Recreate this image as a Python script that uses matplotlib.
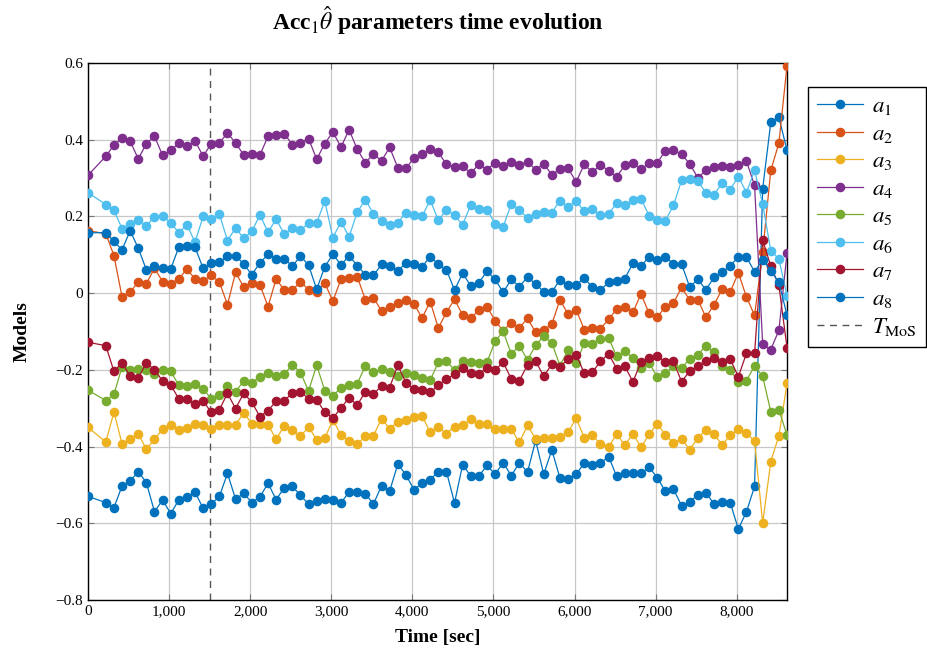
import numpy as np
import matplotlib
matplotlib.use("Agg")
import matplotlib.pyplot as plt
from matplotlib.ticker import FuncFormatter

plt.rcParams['font.family'] = ['Liberation Serif', 'DejaVu Serif']
plt.rcParams['mathtext.fontset'] = 'stix'

# sample times [sec]: first at 0, then every 100 s from 220
time = np.array([0] + list(range(220, 8621, 100)))

a1 = [-0.530, -0.546, -0.559, -0.503, -0.490, -0.465, -0.494, -0.570, -0.539, -0.575,
      -0.539, -0.532, -0.519, -0.561, -0.550, -0.530, -0.470, -0.537, -0.522, -0.546,
      -0.531, -0.496, -0.538, -0.508, -0.504, -0.527, -0.550, -0.541, -0.537, -0.540,
      -0.547, -0.518, -0.518, -0.523, -0.550, -0.502, -0.516, -0.446, -0.473, -0.513,
      -0.495, -0.486, -0.465, -0.465, -0.547, -0.447, -0.477, -0.477, -0.449, -0.472,
      -0.442, -0.476, -0.442, -0.467, -0.384, -0.472, -0.409, -0.482, -0.485, -0.472,
      -0.443, -0.448, -0.443, -0.426, -0.478, -0.470, -0.468, -0.470, -0.454, -0.481,
      -0.517, -0.511, -0.554, -0.545, -0.525, -0.520, -0.550, -0.545, -0.546, -0.615,
      -0.570, -0.504, 0.272, 0.445, 0.458, 0.373]
a2 = [0.163, 0.155, 0.098, -0.010, 0.003, 0.029, 0.025, 0.065, 0.030, 0.025,
      0.037, 0.063, 0.037, 0.032, 0.046, 0.029, -0.030, 0.054, 0.016, 0.026,
      0.022, -0.035, 0.037, 0.008, 0.007, 0.030, 0.009, 0.003, 0.026, -0.021,
      0.037, 0.040, 0.043, -0.017, -0.012, -0.046, -0.037, -0.027, -0.017, -0.028,
      -0.065, -0.022, -0.091, -0.050, -0.016, -0.057, -0.065, -0.045, -0.035, -0.072,
      -0.098, -0.077, -0.090, -0.066, -0.102, -0.096, -0.081, -0.017, -0.055, -0.043,
      -0.095, -0.090, -0.093, -0.068, -0.042, -0.037, -0.050, -0.002, -0.053, -0.063,
      -0.035, -0.026, 0.015, -0.018, -0.017, -0.063, -0.030, 0.010, 0.003, 0.053,
      -0.010, -0.058, 0.107, 0.320, 0.391, 0.593]
a3 = [-0.350, -0.388, -0.310, -0.393, -0.381, -0.367, -0.407, -0.381, -0.355, -0.343,
      -0.357, -0.351, -0.342, -0.344, -0.355, -0.344, -0.344, -0.343, -0.312, -0.340,
      -0.340, -0.343, -0.381, -0.346, -0.357, -0.373, -0.349, -0.382, -0.378, -0.330,
      -0.370, -0.385, -0.394, -0.373, -0.372, -0.327, -0.354, -0.335, -0.330, -0.324,
      -0.320, -0.363, -0.350, -0.366, -0.348, -0.345, -0.328, -0.342, -0.342, -0.355,
      -0.353, -0.355, -0.389, -0.345, -0.380, -0.378, -0.378, -0.374, -0.363, -0.326,
      -0.377, -0.371, -0.393, -0.401, -0.367, -0.397, -0.366, -0.402, -0.368, -0.340,
      -0.370, -0.390, -0.380, -0.408, -0.378, -0.356, -0.368, -0.395, -0.371, -0.355,
      -0.365, -0.386, -0.600, -0.439, -0.372, -0.235]
a4 = [0.307, 0.357, 0.386, 0.404, 0.396, 0.350, 0.390, 0.409, 0.359, 0.372,
      0.391, 0.383, 0.397, 0.357, 0.390, 0.392, 0.417, 0.392, 0.360, 0.362,
      0.360, 0.409, 0.413, 0.416, 0.387, 0.392, 0.403, 0.349, 0.390, 0.420,
      0.381, 0.426, 0.375, 0.340, 0.363, 0.345, 0.380, 0.327, 0.325, 0.353,
      0.363, 0.375, 0.367, 0.336, 0.330, 0.331, 0.313, 0.336, 0.322, 0.340,
      0.332, 0.342, 0.335, 0.343, 0.322, 0.337, 0.309, 0.324, 0.326, 0.290,
      0.336, 0.315, 0.335, 0.319, 0.303, 0.334, 0.338, 0.323, 0.339, 0.340,
      0.371, 0.373, 0.362, 0.337, 0.301, 0.320, 0.329, 0.332, 0.328, 0.333,
      0.344, 0.281, -0.133, -0.147, -0.097, 0.104]
a5 = [-0.253, -0.280, -0.264, -0.192, -0.200, -0.197, -0.200, -0.210, -0.200, -0.204,
      -0.240, -0.242, -0.237, -0.250, -0.275, -0.266, -0.243, -0.257, -0.229, -0.233,
      -0.219, -0.207, -0.217, -0.211, -0.187, -0.207, -0.255, -0.188, -0.254, -0.268,
      -0.246, -0.239, -0.236, -0.190, -0.206, -0.199, -0.205, -0.215, -0.209, -0.213,
      -0.222, -0.227, -0.180, -0.178, -0.200, -0.178, -0.180, -0.183, -0.180, -0.126,
      -0.099, -0.159, -0.137, -0.174, -0.136, -0.112, -0.130, -0.189, -0.149, -0.183,
      -0.130, -0.132, -0.119, -0.117, -0.165, -0.152, -0.168, -0.196, -0.181, -0.219,
      -0.209, -0.191, -0.196, -0.171, -0.161, -0.137, -0.154, -0.191, -0.200, -0.232,
      -0.228, -0.190, -0.217, -0.309, -0.304, -0.370]
a6 = [0.262, 0.231, 0.216, 0.168, 0.180, 0.191, 0.176, 0.198, 0.202, 0.183,
      0.158, 0.178, 0.133, 0.200, 0.194, 0.206, 0.137, 0.170, 0.143, 0.161,
      0.204, 0.159, 0.193, 0.154, 0.169, 0.164, 0.183, 0.183, 0.240, 0.145,
      0.186, 0.147, 0.211, 0.244, 0.207, 0.188, 0.178, 0.183, 0.210, 0.203,
      0.200, 0.243, 0.190, 0.217, 0.203, 0.178, 0.230, 0.220, 0.218, 0.181,
      0.173, 0.233, 0.217, 0.195, 0.207, 0.212, 0.210, 0.241, 0.225, 0.241,
      0.213, 0.220, 0.203, 0.206, 0.235, 0.229, 0.242, 0.246, 0.202, 0.191,
      0.189, 0.229, 0.294, 0.298, 0.292, 0.262, 0.256, 0.288, 0.270, 0.304,
      0.262, 0.320, 0.232, 0.111, 0.089, -0.007]
a7 = [-0.128, -0.137, -0.204, -0.181, -0.217, -0.222, -0.181, -0.200, -0.229, -0.239,
      -0.276, -0.276, -0.290, -0.281, -0.311, -0.304, -0.261, -0.301, -0.261, -0.284,
      -0.322, -0.306, -0.282, -0.280, -0.261, -0.257, -0.275, -0.278, -0.310, -0.326,
      -0.299, -0.273, -0.292, -0.257, -0.264, -0.241, -0.246, -0.188, -0.233, -0.250,
      -0.253, -0.259, -0.240, -0.224, -0.212, -0.196, -0.207, -0.212, -0.194, -0.201,
      -0.180, -0.224, -0.228, -0.187, -0.177, -0.217, -0.185, -0.193, -0.171, -0.160,
      -0.209, -0.206, -0.178, -0.158, -0.197, -0.191, -0.231, -0.180, -0.170, -0.163,
      -0.180, -0.178, -0.231, -0.203, -0.190, -0.176, -0.170, -0.180, -0.172, -0.218,
      -0.157, -0.157, 0.139, 0.070, 0.020, -0.142]
a8 = [0.157, 0.158, 0.135, 0.113, 0.163, 0.117, 0.061, 0.072, 0.065, 0.063,
      0.120, 0.124, 0.119, 0.065, 0.078, 0.080, 0.098, 0.098, 0.076, 0.048,
      0.079, 0.101, 0.090, 0.090, 0.070, 0.097, 0.073, 0.010, 0.069, 0.101,
      0.074, 0.097, 0.072, 0.048, 0.046, 0.075, 0.070, 0.059, 0.078, 0.077,
      0.069, 0.095, 0.076, 0.061, 0.008, 0.052, 0.019, 0.027, 0.057, 0.036,
      0.002, 0.036, 0.017, 0.042, 0.024, 0.004, 0.003, 0.035, 0.021, 0.021,
      0.040, 0.015, 0.008, 0.028, 0.032, 0.038, 0.078, 0.070, 0.095, 0.087,
      0.095, 0.076, 0.076, 0.016, 0.036, 0.009, 0.041, 0.054, 0.072, 0.094,
      0.094, 0.056, 0.087, 0.059, 0.028, -0.057]

t_mos = 1500
series = [a1, a2, a3, a4, a5, a6, a7, a8]
colors = ['#0072BD', '#D95319', '#EDB120', '#7E2F8E',
          '#77AC30', '#4DBEEE', '#A2142F', '#0072BD']

fig = plt.figure(figsize=(9.28, 6.71), dpi=100)
ax = fig.add_axes([88/928, 1-600/671, (787-88)/928, (600-63)/671])

for i, (vals, c) in enumerate(zip(series, colors)):
    ax.plot(time, vals, color=c, lw=0.9, marker='o', ms=5.9,
            label=r'$a_{%d}$' % (i+1), zorder=3+i*0.1)
ax.axvline(t_mos, color='#555555', lw=1.0, ls=(0, (5, 4)),
           label=r'$T_{\mathrm{MoS}}$', zorder=2)

ax.set_xlim(0, 8620)
ax.set_ylim(-0.8, 0.6)
ax.set_xticks(np.arange(0, 8001, 1000))
ax.set_yticks(np.arange(-0.8, 0.61, 0.2))
ax.xaxis.set_major_formatter(FuncFormatter(lambda v, p: f"{v:,.0f}"))

def yfmt(v, p):
    if abs(v) < 1e-9:
        return "0"
    s = f"{abs(v):.1f}"
    return ("\u2212" + s) if v < 0 else s
ax.yaxis.set_major_formatter(FuncFormatter(yfmt))

ax.grid(True, color='#c8c8c8', lw=0.9, zorder=0)
ax.tick_params(direction='in', top=True, right=True, length=4,
               labelsize=11, color='#777777')
for sp in ax.spines.values():
    sp.set_linewidth(1.0)

ax.set_title(r"Acc$_1\hat{\theta}$ parameters time evolution",
             fontsize=17, fontweight='bold', pad=24)
ax.set_xlabel("Time [sec]", fontsize=14, fontweight='bold', labelpad=8)
ax.set_ylabel("Models", fontsize=14, fontweight='bold', labelpad=18)

ax.legend(loc='upper left', bbox_to_anchor=(1.03, 0.955), fontsize=16.5,
          frameon=True, fancybox=False, edgecolor='black', framealpha=1,
          handlelength=2.0, borderaxespad=0, labelspacing=0.28,
          handletextpad=0.4, borderpad=0.4)

fig.savefig("out.png", dpi=100)
